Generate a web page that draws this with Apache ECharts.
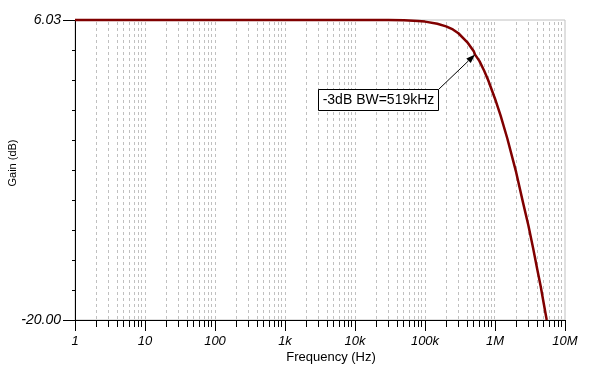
<!DOCTYPE html>
<html>
<head>
<meta charset="utf-8">
<script src="https://cdn.jsdelivr.net/npm/echarts@6/dist/echarts.min.js"></script>
<style>
html,body{margin:0;padding:0;background:#fff;}
#c{width:589px;height:380px;}
</style>
</head>
<body>
<div id="c"></div>
<script>
// ---- data ----
const decades = [1, 10, 100, 1e3, 1e4, 1e5, 1e6, 1e7];
const tickLabels = ['1', '10', '100', '1k', '10k', '100k', '1M', '10M'];
const minorMultipliers = [2, 3, 4, 5, 6, 7, 8, 9];
const freqHz = [1, 10, 100, 1000, 10000, 30000, 50000, 80000, 100000, 150000, 200000, 250000, 300000, 400000, 500000, 519000, 600000, 700000, 800000, 1000000, 1200000, 1500000, 2000000, 2500000, 3000000, 3500000, 4000000, 4500000, 5000000, 5480000];
const gainDb = [6.03, 6.03, 6.03, 6.03, 6.03, 6.02, 6.00, 5.94, 5.89, 5.70, 5.48, 5.21, 4.88, 4.12, 3.29, 3.03, 2.46, 1.62, 0.80, -0.80, -2.25, -4.25, -7.15, -9.75, -11.80, -13.75, -15.55, -17.10, -18.65, -20.0];
const yMin = -20.0, yMax = 6.03;
const yMinorCount = 10;
const markerFreq = 519000, markerGain = 3.03;
const markerText = '-3dB BW=519kHz';

const gridPositions = [];
decades.slice(0, -1).forEach(d => {
  minorMultipliers.forEach(m => gridPositions.push(d * m));
  if (d > 1) gridPositions.push(d);
});
const minorTickPositions = [];
decades.slice(0, -1).forEach(d => minorMultipliers.forEach(m => minorTickPositions.push(d * m)));

const chart = echarts.init(document.getElementById('c'), null, {renderer: 'canvas'});
const FONT = 'Liberation Sans, Arial, sans-serif';
const crisp = v => Math.round(v - 0.5) + 0.5;

chart.setOption({
  animation: false,
  backgroundColor: '#fff',
  grid: {left: 75, right: 24, top: 20, bottom: 60, show: true, borderColor: '#c0c0c0', borderWidth: 1, backgroundColor: 'transparent'},
  xAxis: {
    type: 'log', logBase: 10, min: 1, max: 1e7, splitNumber: 7, interval: 1,
    axisLine: {show: true, onZero: false, lineStyle: {color: '#000', width: 1}},
    axisTick: {show: true, length: 11, lineStyle: {color: '#000'}},
    minorTick: {show: false},
    splitLine: {show: false},
    axisLabel: {
      margin: 15, color: '#000', fontSize: 13, fontStyle: 'italic', fontFamily: FONT,
      formatter: v => tickLabels[Math.round(Math.log10(v))]
    }
  },
  yAxis: [{
    type: 'value', position: 'left', min: yMin, max: yMax, interval: yMax - yMin,
    axisLine: {show: true, onZero: false, lineStyle: {color: '#000', width: 1}},
    axisTick: {show: true, length: 12, lineStyle: {color: '#000'}},
    splitLine: {show: false},
    axisLabel: {margin: 14, color: '#000', fontSize: 14, fontStyle: 'italic', fontFamily: FONT,
      formatter: v => v.toFixed(2)}
  }, {
    type: 'value', position: 'left', offset: 0, min: yMin, max: yMax, interval: (yMax - yMin) / yMinorCount,
    axisLine: {show: false},
    axisTick: {show: true, length: 3, lineStyle: {color: '#000'}},
    splitLine: {show: false},
    axisLabel: {show: false}
  }],
  series: [{
    type: 'custom', silent: true, z: 1,
    data: gridPositions.map(f => [f, yMin]),
    renderItem: (params, api) => {
      const f = api.value(0);
      const t = api.coord([f, yMax]);
      const b = api.coord([f, yMin]);
      const x = crisp(t[0]);
      return {type: 'line', shape: {x1: x, y1: t[1] + 2, x2: x, y2: b[1]},
        style: {stroke: '#c0c0c0', lineWidth: 1, lineDash: [3, 3]}};
    }
  }, {
    type: 'custom', silent: true, z: 3, clip: false,
    data: minorTickPositions.map(f => [f, yMin]),
    renderItem: (params, api) => {
      const f = api.value(0);
      const b = api.coord([f, yMin]);
      const x = crisp(b[0]);
      return {type: 'line', shape: {x1: x, y1: b[1], x2: x, y2: b[1] + 7},
        style: {stroke: '#000', lineWidth: 1}};
    }
  }, {
    type: 'line', z: 5, clip: false, showSymbol: false, smooth: false,
    data: freqHz.map((f, i) => [f, gainDb[i]]),
    lineStyle: {color: '#800000', width: 2.5, join: 'round'}
  }]
});

// annotation attached to the -3 dB point
const tip = chart.convertToPixel({gridIndex: 0}, [markerFreq, markerGain]);
const bx2 = Math.round(tip[0] - 37), by1 = Math.round(tip[1] + 34);
const bw = 120, bh = 21;
const start = [bx2 + 0.5, by1 + 0.5];
const ang = Math.atan2(tip[1] - start[1], tip[0] - start[0]);
const al = 9, aw = 3.2;
const base = [tip[0] - al * Math.cos(ang), tip[1] - al * Math.sin(ang)];
const nx = -Math.sin(ang), ny = Math.cos(ang);

chart.setOption({
  graphic: [
    {type: 'line', z: 20, shape: {x1: start[0], y1: start[1], x2: base[0], y2: base[1]}, style: {stroke: '#000', lineWidth: 1}},
    {type: 'polygon', z: 20, shape: {points: [[tip[0], tip[1]], [base[0] + nx * aw, base[1] + ny * aw], [base[0] - nx * aw, base[1] - ny * aw]]}, style: {fill: '#000'}},
    {type: 'rect', z: 21, shape: {x: bx2 - bw + 0.5, y: by1 + 0.5, width: bw, height: bh}, style: {fill: '#fff', stroke: '#000', lineWidth: 1}},
    {type: 'text', z: 22, x: bx2 - bw / 2 + 0.5, y: by1 + bh / 2 + 1, style: {text: markerText, font: '14px ' + FONT, fill: '#000', align: 'center', verticalAlign: 'middle'}},
    {type: 'text', z: 22, x: 331, y: 357, style: {text: 'Frequency (Hz)', font: '13px ' + FONT, fill: '#000', align: 'center', verticalAlign: 'middle'}},
    {type: 'text', z: 22, x: 12.5, y: 163, rotation: Math.PI / 2, style: {text: 'Gain (dB)', font: '11px ' + FONT, fill: '#000', align: 'center', verticalAlign: 'middle'}}
  ]
});
</script>
</body>
</html>
